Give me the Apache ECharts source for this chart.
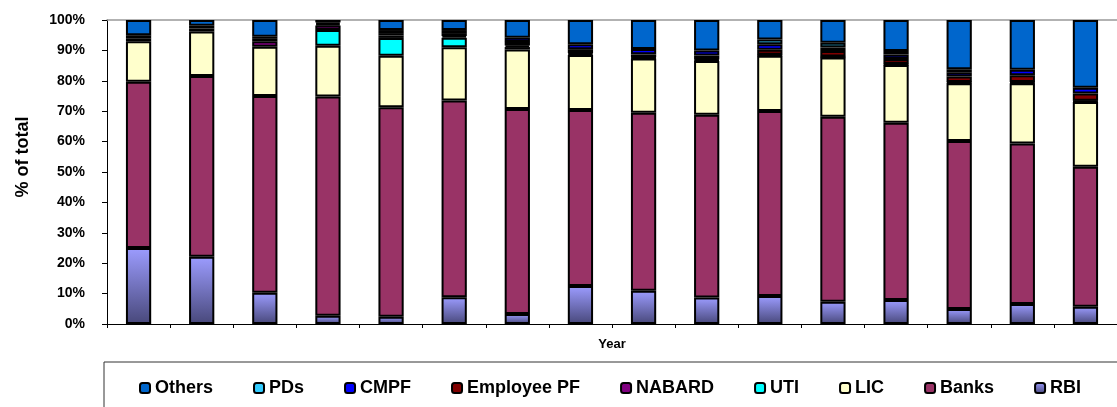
<!DOCTYPE html>
<html>
<head>
<meta charset="utf-8">
<style>
  html, body { margin: 0; padding: 0; background: #fff; }
  #chart { width: 1117px; height: 407px; }
</style>
<script src="https://cdn.jsdelivr.net/npm/echarts@6/dist/echarts.min.js"></script>
</head>
<body>
<div id="chart"></div>
<script>
// Sixteen periods, unlabelled on the category axis
const categories = ['', '', '', '', '', '', '', '', '', '', '', '', '', '', '', ''];

// Share of total holdings (%) by holder, bottom of stack first ('-' = no holding)
const rbi        = [25.0, 22.1, 10.3, 2.7, 2.4, 8.8, 3.3, 12.5, 10.9, 8.7, 9.2, 7.3, 7.9, 4.9, 6.6, 5.7];
const banks      = [54.7, 59.5, 64.7, 72.1, 68.9, 64.7, 67.4, 57.9, 58.6, 60.1, 60.9, 60.9, 58.3, 55.3, 52.8, 46.0];
const lic        = [13.3, 14.6, 16.2, 16.7, 16.9, 17.5, 19.6, 18.1, 17.8, 17.7, 18.1, 19.5, 19.0, 19.0, 19.8, 21.3];
const uti        = ['-', '-', '-', 5.2, 5.9, 3.2, 0.8, 0.3, 0.2, 0.2, 0.2, 0.1, 0.2, 0.2, 0.2, 0.2];
const nabard     = ['-', '-', 1.8, 1.5, 0.8, 0.5, 0.5, 0.3, 0.2, 0.3, 0.2, 0.2, 0.2, 0.2, 0.2, 0.2];
const employeePF = [1.0, 1.0, 0.8, 0.5, 0.8, 1.0, 1.2, 1.3, 1.0, 1.3, 1.6, 1.8, 1.6, 1.8, 2.2, 2.4];
const cmpf       = [1.0, 0.9, 0.7, 0.5, 1.0, 1.0, 1.4, 1.6, 1.8, 1.7, 1.8, 1.2, 1.4, 1.4, 1.8, 1.9];
const pds        = ['-', '-', '-', '-', '-', '-', '-', '-', '-', '-', 1.6, 1.5, 1.2, 1.0, '-', '-'];
const others     = [5.0, 1.9, 5.5, 0.8, 3.3, 3.3, 5.8, 8.0, 9.5, 10.0, 6.4, 7.5, 10.2, 16.2, 16.4, 22.3];

const yTicks = [0, 10, 20, 30, 40, 50, 60, 70, 80, 90, 100];
const legendOrder = ['Others', 'PDs', 'CMPF', 'Employee PF', 'NABARD', 'UTI', 'LIC', 'Banks', 'RBI'];

const FONT = 'Arial, "Liberation Sans", sans-serif';

const rbiFill = new echarts.graphic.LinearGradient(0, 0, 0, 1, [
  { offset: 0, color: '#9C9CFF' },
  { offset: 1, color: '#48487A' }
]);

const stackDefs = [
  { name: 'RBI',         data: rbi,        color: rbiFill },
  { name: 'Banks',       data: banks,      color: '#993366' },
  { name: 'LIC',         data: lic,        color: '#FFFFCC' },
  { name: 'UTI',         data: uti,        color: '#00FFFF' },
  { name: 'NABARD',      data: nabard,     color: '#800080' },
  { name: 'Employee PF', data: employeePF, color: '#800000' },
  { name: 'CMPF',        data: cmpf,       color: '#0000FF' },
  { name: 'PDs',         data: pds,        color: '#33CCFF' },
  { name: 'Others',      data: others,     color: '#0066CC' }
];

const series = stackDefs.map(d => ({
  name: d.name,
  type: 'bar',
  stack: 'total',
  barWidth: '40%',
  data: d.data,
  itemStyle: { color: d.color, borderColor: '#000', borderWidth: 2 },
  emphasis: { disabled: true }
}));

const chart = echarts.init(document.getElementById('chart'), null, { renderer: 'canvas' });
chart.setOption({
  backgroundColor: '#fff',
  animation: false,
  grid: { left: 107, top: 20, width: 1018, height: 304, containLabel: false },
  xAxis: [
    {
      type: 'category',
      data: categories,
      position: 'bottom',
      boundaryGap: true,
      name: 'Year',
      nameLocation: 'middle',
      nameGap: 14,
      nameTextStyle: { fontFamily: FONT, fontWeight: 'bold', fontSize: 13, color: '#000' },
      axisLine: { lineStyle: { color: '#000', width: 1 } },
      axisTick: { show: true, length: 4, alignWithLabel: false, lineStyle: { color: '#000' } },
      axisLabel: { show: false },
      splitLine: { show: false }
    },
    {
      type: 'category',
      data: categories,
      position: 'top',
      axisLine: { lineStyle: { color: '#999', width: 1.5 } },
      axisTick: { show: false },
      axisLabel: { show: false },
      splitLine: { show: false }
    }
  ],
  yAxis: {
    type: 'value',
    min: yTicks[0],
    max: yTicks[yTicks.length - 1],
    interval: yTicks[1] - yTicks[0],
    axisLine: { show: true, lineStyle: { color: '#000', width: 1 } },
    axisTick: { show: true, length: 5, lineStyle: { color: '#000' } },
    axisLabel: {
      formatter: v => v + '%',
      fontFamily: FONT,
      fontWeight: 'bold',
      fontSize: 14,
      color: '#000',
      margin: 22
    },
    splitLine: { show: false }
  },
  legend: {
    data: legendOrder,
    left: 104,
    top: 362,
    width: 1060,
    orient: 'horizontal',
    padding: [16, 60, 40, 35],
    itemGap: 40,
    itemWidth: 10,
    itemHeight: 10,
    borderColor: '#333',
    borderWidth: 1,
    selectedMode: false,
    textStyle: { fontFamily: FONT, fontWeight: 'bold', fontSize: 18, color: '#000', lineHeight: 20 }
  },
  graphic: [
    {
      type: 'text',
      x: 23,
      y: 157,
      rotation: Math.PI / 2,
      style: {
        text: '% of total',
        font: 'bold 18px ' + FONT,
        fill: '#000',
        align: 'center',
        verticalAlign: 'middle'
      }
    }
  ],
  series: series
});
</script>
</body>
</html>
